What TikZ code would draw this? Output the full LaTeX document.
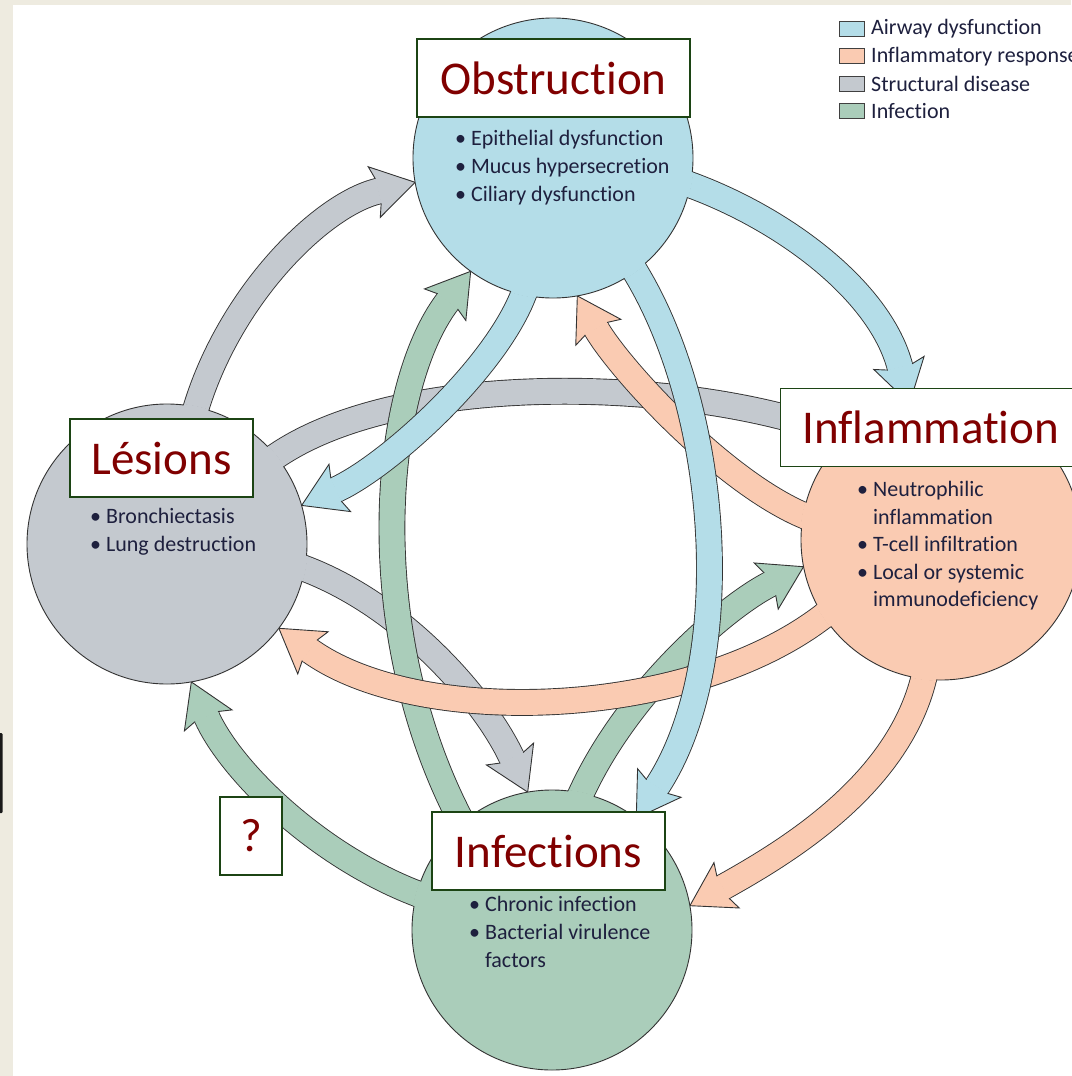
\documentclass[tikz,border=0pt]{standalone}
\usepackage{fontspec}
\setmainfont{Carlito}[Ligatures=NoCommon]
\usetikzlibrary{decorations.markings}
\pgfdeclarelayer{paper}
\pgfdeclarelayer{ribbons}
\pgfsetlayers{paper,ribbons,main}
\definecolor{airway}{RGB}{180,221,232}
\definecolor{inflam}{RGB}{250,203,178}
\definecolor{struct}{RGB}{196,201,207}
\definecolor{infect}{RGB}{170,205,186}
\definecolor{titlered}{RGB}{128,0,0}
\definecolor{boxgreen}{RGB}{28,68,20}
\definecolor{bodytext}{RGB}{30,32,62}
\definecolor{paper}{RGB}{238,235,224}

\tikzset{
  stage/.style={circle, draw=black!80, line width=0.9pt, minimum size=280pt, inner sep=0pt, outer sep=0pt},
  tag/.style={draw=boxgreen, line width=1.4pt, fill=white, text=titlered, font=\fontsize{47}{50}\selectfont, minimum height=78pt, inner sep=0pt},
  items/.style={anchor=north west, align=left, inner sep=0pt, text=bodytext, font=\fontsize{22}{28}\selectfont},
  key/.style={draw=black!75, line width=1.2pt, minimum width=25pt, minimum height=15pt, inner sep=0pt},
  keytext/.style={anchor=west, inner sep=0pt, text=bodytext, font=\fontsize{22}{24}\selectfont},
  ribbon edge/.style={line width=26.8pt, draw=black!80, shorten <=-12pt, shorten >=37.85pt},
  ribbon body/.style={line width=25pt, draw=#1, shorten <=-12pt, shorten >=37.85pt},
}

% arrow head, tip at the origin, pointing along x
\newcommand\headtip[1]{%
  \fill[#1] (-39.5,-12.5) rectangle (-37.5,12.5);
  \fill[#1] (-37.85,12.5) -- (-42,26) -- (0,0) -- (-42,-26) -- (-37.85,-12.5) -- cycle;
  \draw[black!80, line width=0.9pt] (-37.85,12.5) -- (-42,26) -- (0,0) -- (-42,-26) -- (-37.85,-12.5);}

% colour, source node, path
\newcommand\ribbon[3]{%
  \begin{pgfonlayer}{ribbons}
  \draw[ribbon edge] #3;
  \draw[ribbon body=#1] #3;
  \path[postaction={decorate, decoration={markings, mark=at position 0.9999 with {\headtip{#1}}}}] #3;
  \end{pgfonlayer}
  \begin{scope}
  \clip (#2.center) circle[radius=141pt];
  \draw[ribbon body=#1] #3;
  \end{scope}}

\begin{document}
\begin{tikzpicture}[x=1pt, y=-1pt]
\useasboundingbox (0,0) rectangle (1071,1076);
\begin{pgfonlayer}{paper}
\fill[paper] (0,0) rectangle (1071,1076);
\fill[white] (13,5) rectangle (1071,1076);
\fill[black!90, rounded corners=1pt] (-1,733) rectangle (2.5,813);
\end{pgfonlayer}

\node[stage, fill=airway] (obs) at (553,158) {};
\node[stage, fill=struct] (les) at (167,544) {};
\node[stage, fill=inflam] (infl) at (941,540) {};
\node[stage, fill=infect] (inf) at (552,930) {};

% structural disease
\ribbon{struct}{les}{(les.78) .. controls (225,300) and (320,205) .. (obs.190)}
\ribbon{struct}{les}{(les.39) .. controls (380,375) and (650,375) .. (infl.132)}
\ribbon{struct}{les}{(les.-10) .. controls (400,600) and (485,700) .. (inf.100)}
% infection
\ribbon{infect}{inf}{(inf.130) .. controls (360,640) and (380,390) .. (obs.234)}
\ribbon{infect}{inf}{(inf.78) .. controls (620,700) and (720,610) .. (infl.191)}
\ribbon{infect}{inf}{(inf.165) .. controls (320,860) and (230,770) .. (les.-80)}
% inflammatory response
\ribbon{inflam}{infl}{(infl.170) .. controls (730,490) and (620,370) .. (obs.-80)}
\ribbon{inflam}{infl}{(infl.213) .. controls (700,720) and (420,730) .. (les.-37)}
\ribbon{inflam}{infl}{(infl.-97) .. controls (905,780) and (790,850) .. (inf.10)}
% airway dysfunction
\ribbon{airway}{obs}{(obs.-11) .. controls (780,215) and (880,290) .. (infl.103)}
\ribbon{airway}{obs}{(obs.-102) .. controls (505,360) and (390,465) .. (les.16)}
\ribbon{airway}{obs}{(obs.-54) .. controls (720,400) and (740,660) .. (inf.53)}

\node[items] (obslist) at (455,130.5) {\textbullet\ Epithelial dysfunction\\ \textbullet\ Mucus hypersecretion\\ \textbullet\ Ciliary dysfunction};
\node[items] (leslist) at (90,508.5) {\textbullet\ Bronchiectasis\\ \textbullet\ Lung destruction};
\node[items, font=\fontsize{22}{27.5}\selectfont] (infllist) at (857,481.5) {\textbullet\ Neutrophilic\\ \phantom{\textbullet\ }inflammation\\ \textbullet\ T-cell infiltration\\ \textbullet\ Local or systemic\\ \phantom{\textbullet\ }immunodeficiency};
\node[items] (inflist) at (469,896.5) {\textbullet\ Chronic infection\\ \textbullet\ Bacterial virulence\\ \phantom{\textbullet\ }factors};

\node[tag, minimum width=273pt] (obstag) at (553.5,78) {Obstruction};
\node[tag, minimum width=183pt] (lestag) at (161.5,458) {Lésions};
\node[tag, minimum width=300pt, anchor=west] (infltag) at (780,427.5) {Inflammation};
\node[tag, minimum width=233pt] (inftag) at (548.5,851) {Infections};
\node[tag, minimum width=62pt] (qtag) at (251,836) {?};

\foreach \c/\t [count=\i] in {airway/Airway dysfunction, inflam/Inflammatory response, struct/Structural disease, infect/Infection}
{
  \node[key, fill=\c] (key\i) at (852,{29+27.3*(\i-1)}) {};
  \node[keytext] (keytext\i) at (871,{29+27.3*(\i-1)}) {\t};
}
\end{tikzpicture}
\end{document}
